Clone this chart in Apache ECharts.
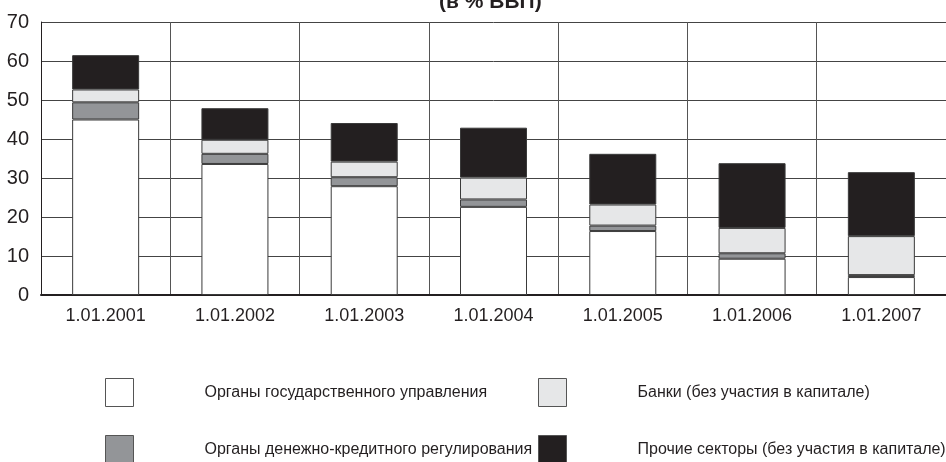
<!DOCTYPE html>
<html>
<head>
<meta charset="utf-8">
<script src="https://cdn.jsdelivr.net/npm/echarts@6/dist/echarts.min.js"></script>
<style>
    html, body { margin: 0; padding: 0; background: #fff; }
    #chart { width: 946px; height: 462px; }
</style>
</head>
<body>
<div id="chart"></div>
<script>
const categories = ['1.01.2001', '1.01.2002', '1.01.2003', '1.01.2004', '1.01.2005', '1.01.2006', '1.01.2007']
const govValues = [45.0, 33.6, 27.9, 22.6, 16.4, 9.3, 4.6]
const monetaryValues = [4.4, 2.6, 2.3, 1.9, 1.4, 1.4, 0.5]
const bankValues = [3.3, 3.6, 4.0, 5.6, 5.4, 6.5, 10.0]
const otherValues = [8.8, 8.1, 9.9, 12.8, 13.0, 16.6, 16.4]
const seriesNames = [
    'Органы государственного управления',
    'Органы денежно-кредитного регулирования',
    'Банки (без участия в капитале)',
    'Прочие секторы (без участия в капитале)'
]

const font = "'Liberation Sans', Arial, sans-serif"
const ink = '#231f20'

const chart = echarts.init(document.getElementById('chart'))

function bar(name, data, color) {
    return {
        name: name,
        type: 'bar',
        stack: 'total',
        barWidth: 67,
        data: data,
        itemStyle: { color: color, borderColor: '#3a3a3a', borderWidth: 1 },
        emphasis: { disabled: true }
    }
}

// one legend per item so the 2x2 layout matches the picture
function legendAt(name, left, top) {
    return {
        data: [name],
        left: left,
        top: top,
        icon: 'rect',
        itemWidth: 28,
        itemHeight: 28,
        padding: 0,
        selectedMode: false,
        itemStyle: { borderColor: '#555', borderWidth: 1 },
        textStyle: { fontFamily: font, fontSize: 16, color: ink, padding: [0, 0, 0, 66] }
    }
}

const option = {
    animation: false,
    title: {
        text: '(в % ВВП)',
        left: 434,
        top: -13,
        textStyle: { fontFamily: font, fontSize: 21, fontWeight: 'bold', color: ink }
    },
    legend: [
        legendAt(seriesNames[0], 105, 378),
        legendAt(seriesNames[2], 538, 378),
        legendAt(seriesNames[1], 105, 435),
        legendAt(seriesNames[3], 538, 435)
    ],
    grid: { left: 41, right: -12, top: 22, bottom: 167 },
    xAxis: {
        type: 'category',
        data: categories,
        boundaryGap: true,
        axisLine: { lineStyle: { color: ink, width: 2 } },
        axisTick: { show: false },
        splitLine: { show: true, lineStyle: { color: '#555', width: 1 } },
        axisLabel: { fontFamily: font, fontSize: 18, color: ink, margin: 12 }
    },
    yAxis: {
        type: 'value',
        min: 0,
        max: 70,
        interval: 10,
        axisLine: { show: true, lineStyle: { color: ink, width: 1 } },
        axisTick: { show: false },
        splitLine: { lineStyle: { color: '#444', width: 1 } },
        axisLabel: { fontFamily: font, fontSize: 20, color: ink, margin: 12 }
    },
    series: [
        bar(seriesNames[0], govValues, '#ffffff'),
        bar(seriesNames[1], monetaryValues, '#939598'),
        bar(seriesNames[2], bankValues, '#e6e7e8'),
        bar(seriesNames[3], otherValues, ink)
    ]
}

chart.setOption(option)
</script>
</body>
</html>
